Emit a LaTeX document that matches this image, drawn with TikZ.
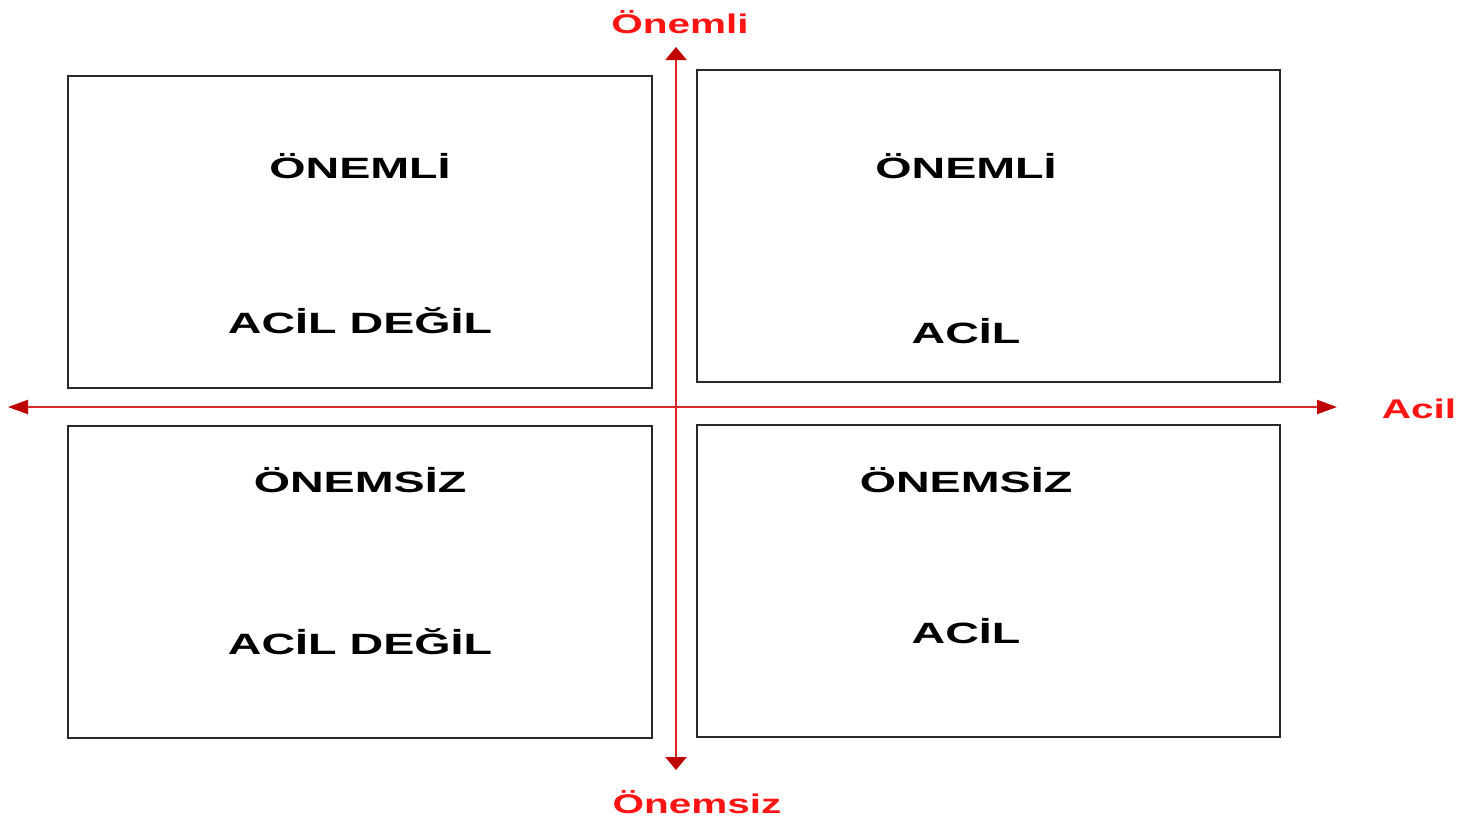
\documentclass[tikz,border=0pt]{standalone}
\usepackage{fontspec}
\usepackage{graphicx}
\setmainfont{Liberation Sans}
\usetikzlibrary{arrows.meta}
\definecolor{axisred}{RGB}{214,40,40}
\definecolor{tipred}{RGB}{190,0,0}
\definecolor{labred}{RGB}{255,20,20}
\definecolor{boxgray}{RGB}{40,40,40}
\newcommand\widebk[1]{\scalebox{1.59}[1]{#1}}
\newcommand\widerd[1]{\scalebox{1.5}[1]{#1}}
\begin{document}
\begin{tikzpicture}[x=0.75pt,y=-0.75pt,
  quad/.style={draw=boxgray,line width=2pt,inner sep=0pt,minimum width=438pt,minimum height=234pt},
  qtext/.style={anchor=base,inner sep=0pt,font=\bfseries\fontsize{22}{26}\selectfont,text=black},
  axlab/.style={inner sep=0pt,font=\bfseries\fontsize{20.25}{24}\selectfont,text=labred},
  haxis/.style={draw=axisred,line width=1.6pt,-{Triangle[length=15pt,width=10.5pt,color=tipred]}},
  vaxis/.style={draw=axisred,line width=1.6pt,-{Triangle[length=9.75pt,width=15.75pt,color=tipred]}}]
\useasboundingbox (0,0) rectangle (1460,822);
% quadrant boxes
\node[quad] (tl) at (360,232) {};
\node[quad,minimum width=437.25pt] (tr) at (988.5,226) {};
\node[quad] (bl) at (360,582) {};
\node[quad,minimum width=437.25pt] (br) at (988.5,581) {};
% texts
\node[qtext] (tl1) at (360,178) {\widebk{ÖNEMLİ}};
\node[qtext] (tl2) at (360,333) {\widebk{ACİL DEĞİL}};
\node[qtext] (tr1) at (966,178) {\widebk{ÖNEMLİ}};
\node[qtext] (tr2) at (966,343) {\widebk{ACİL}};
\node[qtext] (bl1) at (360,492) {\widebk{ÖNEMSİZ}};
\node[qtext] (bl2) at (360,654) {\widebk{ACİL DEĞİL}};
\node[qtext] (br1) at (966,492) {\widebk{ÖNEMSİZ}};
\node[qtext] (br2) at (966,643) {\widebk{ACİL}};
% axes
\coordinate (center) at (676,407);
\coordinate (vtop) at (676,47);
\coordinate (vbot) at (676,770);
\coordinate (hleft) at (8,407);
\coordinate (hright) at (1337,407);
\draw[vaxis] (center) -- (vtop);
\draw[vaxis] (center) -- (vbot);
\draw[haxis] (center) -- (hleft);
\draw[haxis] (center) -- (hright);
% axis labels
\node[axlab] (lonemli) at (680,22) {\widerd{Önemli}};
\node[axlab] (lacil) at (1419,409) {\widerd{Acil}};
\node[axlab] (lonemsiz) at (697,802) {\widerd{Önemsiz}};
\end{tikzpicture}
\end{document}
